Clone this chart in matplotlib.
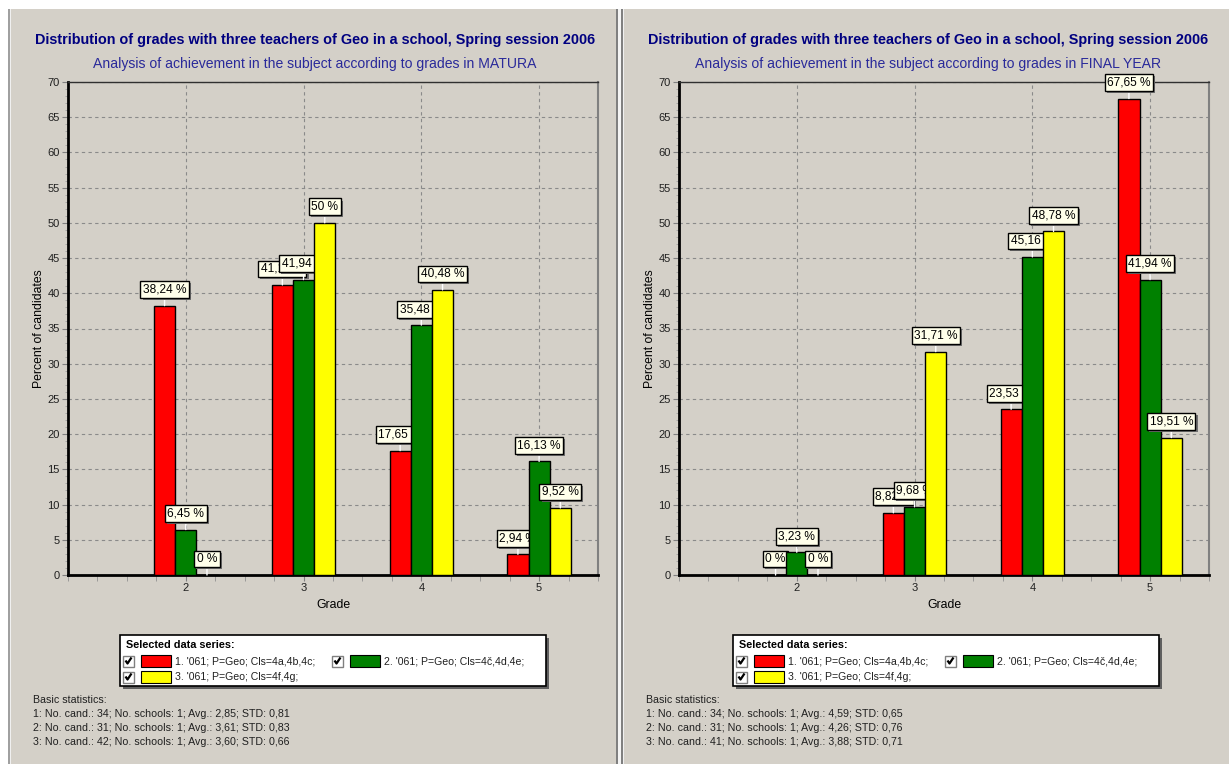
import matplotlib
matplotlib.use("Agg")
import matplotlib.pyplot as plt
import matplotlib.patheffects as pe
from matplotlib.patches import Rectangle
from matplotlib.ticker import MultipleLocator, FixedLocator

plt.rcParams["font.family"] = ["Liberation Sans", "DejaVu Sans"]

W, H = 1229, 764
BG = "#d4d0c8"

grades = [2, 3, 4, 5]
series_names = [
    "1. '061; P=Geo; Cls=4a,4b,4c;",
    "2. '061; P=Geo; Cls=4č,4d,4e;",
    "3. '061; P=Geo; Cls=4f,4g;",
]
colors = ["#ff0000", "#008000", "#ffff00"]

# percent of candidates per grade, one list per series
matura = [
    [38.24, 41.18, 17.65, 2.94],
    [6.45, 41.94, 35.48, 16.13],
    [0, 50, 40.48, 9.52],
]
final_year = [
    [0, 8.82, 23.53, 67.65],
    [3.23, 9.68, 45.16, 41.94],
    [0, 31.71, 48.78, 19.51],
]

# basic statistics: candidates, schools, average, std
matura_cand = [34, 31, 42]
matura_avg = [2.85, 3.61, 3.60]
matura_std = [0.81, 0.83, 0.66]
final_cand = [34, 31, 41]
final_avg = [4.59, 4.26, 3.88]
final_std = [0.65, 0.76, 0.71]
schools = [1, 1, 1]

title = "Distribution of grades with three teachers of Geo in a school, Spring session 2006"
subtitles = [
    "Analysis of achievement in the subject according to grades in MATURA",
    "Analysis of achievement in the subject according to grades in FINAL YEAR",
]


def comma(v, fmt="{:g}"):
    return fmt.format(v).replace(".", ",")


fig = plt.figure(figsize=(W / 100, H / 100), dpi=100)
fig.patch.set_facecolor(BG)

# overlay in pixel coordinates for the window frame, titles, legend and stats
canvas = fig.add_axes([0, 0, 1, 1], zorder=5)
canvas.set_xlim(0, W)
canvas.set_ylim(H, 0)
canvas.axis("off")
canvas.patch.set_alpha(0)

# window frame
canvas.add_patch(Rectangle((0, 0), W, 9, fc="white", ec="none"))
canvas.add_patch(Rectangle((0, 0), 8, H, fc="white", ec="none"))
canvas.add_patch(Rectangle((8, 9), 2, H, fc="#a0a0a0", ec="none"))
canvas.add_patch(Rectangle((10, 9), 1, H, fc="#f0f0f0", ec="none"))
canvas.add_patch(Rectangle((616, 9), 2, H, fc="#808080", ec="none"))
canvas.add_patch(Rectangle((618, 9), 3, H, fc="#f4f4f4", ec="none"))
canvas.add_patch(Rectangle((621, 9), 2, H, fc="#808080", ec="none"))
canvas.add_patch(Rectangle((623, 9), 1, H, fc="#f0f0f0", ec="none"))


def draw_checkbox(x, y):
    canvas.add_patch(Rectangle((x, y - 5.5), 11, 11, fc="white", ec="#808080", lw=1))
    canvas.plot([x + 2.5, x + 4.5, x + 8.5], [y - 0.5, y + 2.5, y - 3.5],
                color="black", lw=1.6, solid_capstyle="butt")


def draw_panel(ox, ax_left, ax_right, subtitle, data, cand, avg, std):
    cx = ox + 315
    canvas.text(cx, 40, title, ha="center", va="center", fontsize=10.4,
                fontweight="bold", color="#000080")
    canvas.text(cx, 64, subtitle, ha="center", va="center", fontsize=10.1,
                color="#2a2a9a")

    ax = fig.add_axes([ax_left / W, 1 - 575 / H, (ax_right - ax_left) / W, 493 / H])
    ax.set_facecolor(BG)
    ax.set_xlim(1, 5.5)
    ax.set_ylim(0, 70)
    width = 0.18
    for i, vals in enumerate(data):
        xs = [g + (i - 1) * width for g in grades]
        ax.bar(xs, vals, width=width, color=colors[i], edgecolor="black",
               linewidth=1, zorder=3 + 2 * i)
        for x, v in zip(xs, vals):
            t = ax.annotate(comma(v) + " %", xy=(x, v), xytext=(0, 16),
                            textcoords="offset pixels", ha="center", va="center",
                            fontsize=8.6, zorder=4 + 2 * i,
                            bbox=dict(boxstyle="square,pad=0.2", fc="#ffffea",
                                      ec="black", lw=1),
                            arrowprops=dict(arrowstyle="-", color="white", lw=1,
                                            shrinkA=0, shrinkB=0))
            t.get_bbox_patch().set_path_effects(
                [pe.withSimplePatchShadow(offset=(1.5, -1.5), shadow_rgbFace="#707070", alpha=1)])

    ax.yaxis.set_major_locator(MultipleLocator(5))
    ax.yaxis.set_minor_locator(MultipleLocator(1))
    ax.xaxis.set_major_locator(FixedLocator(grades))
    ax.xaxis.set_minor_locator(MultipleLocator(0.25))
    ax.tick_params(which="major", length=4, color="#808080", labelsize=8,
                   labelcolor="#202020", pad=2)
    ax.tick_params(which="minor", axis="x", length=4, color="#909090")
    ax.tick_params(which="minor", axis="y", length=2, color="#a0a0a0")
    ax.grid(True, which="major", color="#8a8a8a", linestyle=(0, (3, 3)), lw=0.8, zorder=1)
    ax.set_axisbelow(True)
    for side in ("left", "bottom"):
        ax.spines[side].set_color("black")
        ax.spines[side].set_linewidth(2)
    ax.spines["top"].set_color("#303030")
    ax.spines["top"].set_linewidth(1)
    ax.spines["right"].set_color("#808080")
    ax.spines["right"].set_linewidth(1.5)
    ax.set_xlabel("Grade", fontsize=8.8, labelpad=4)
    ax.set_ylabel("Percent of candidates", fontsize=8.8, labelpad=2)

    # legend box
    lx, ly, lw_, lh = ox + 120, 635, 426, 51
    canvas.add_patch(Rectangle((lx + 3, ly + 3), lw_, lh, fc="#606060", ec="none"))
    canvas.add_patch(Rectangle((lx, ly), lw_, lh, fc="white", ec="black", lw=1.2))
    canvas.text(lx + 6, ly + 10, "Selected data series:", fontsize=7.8,
                fontweight="bold", va="center")
    slots = [(lx + 3, ly + 26), (lx + 212, ly + 26), (lx + 3, ly + 42)]
    for (sx, sy), name, c in zip(slots, series_names, colors):
        draw_checkbox(sx, sy)
        canvas.add_patch(Rectangle((sx + 18, sy - 6), 30, 12, fc=c, ec="black", lw=0.8))
        canvas.text(sx + 52, sy, name, fontsize=7.6, va="center", color="#202020")

    lines = ["Basic statistics:"]
    for k in range(3):
        lines.append(f"{k + 1}: No. cand.: {cand[k]}; No. schools: {schools[k]}; "
                     f"Avg.: {comma(avg[k], '{:.2f}')}; STD: {comma(std[k], '{:.2f}')}")
    for k, line in enumerate(lines):
        canvas.text(ox + 33, 700 + k * 14, line, fontsize=7.7, va="center", color="#202020")


draw_panel(0, 68, 598, subtitles[0], matura, matura_cand, matura_avg, matura_std)
draw_panel(613, 679, 1209, subtitles[1], final_year, final_cand, final_avg, final_std)

fig.savefig("out.png", dpi=100, facecolor=BG)
